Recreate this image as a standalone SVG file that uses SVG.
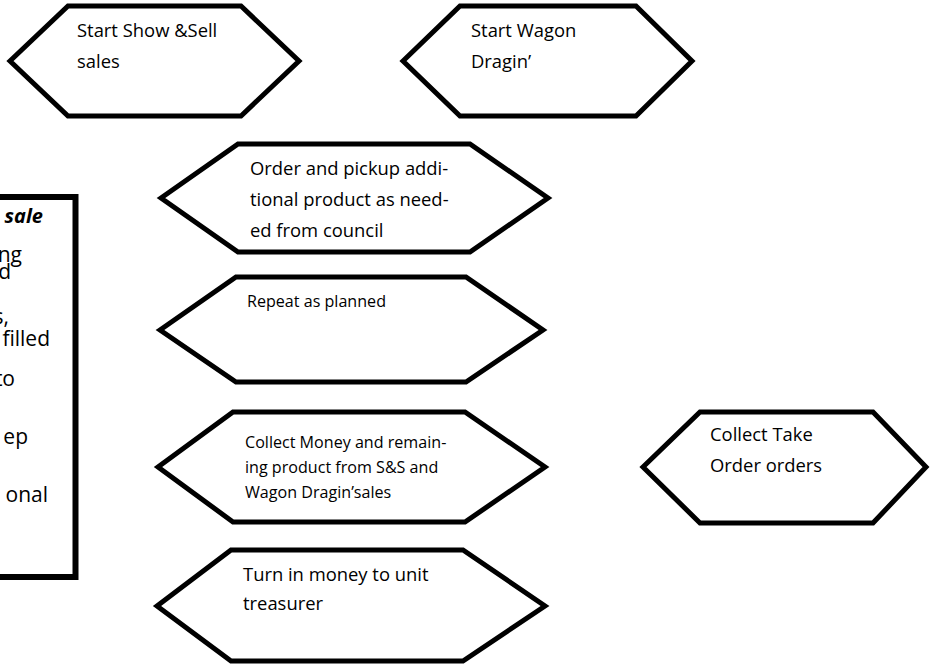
<svg xmlns="http://www.w3.org/2000/svg" width="932" height="664" viewBox="0 0 932 664">
<style>
.hex{fill:#fff;stroke:#000;stroke-width:5;stroke-linejoin:miter}
.box{fill:#fff;stroke:#000;stroke-width:6}
.t{font-family:"Open Sans","Liberation Sans",sans-serif;font-size:18.4px;fill:#000}
.s{font-size:16.1px}
.b{font-family:"Open Sans","Liberation Sans",sans-serif;font-size:21px;fill:#000}
.bi{font-weight:bold;font-style:italic;font-size:20px}
</style>
<rect width="932" height="664" fill="#fff"/>
<g id="connectors"></g>
<g id="note">
<rect class="box" x="-20" y="197" width="95.5" height="380"/>
<text class="b bi" x="43" y="223" text-anchor="end">sale</text>
<text class="b" x="22" y="262" text-anchor="end">ng</text>
<text class="b" x="11" y="279" text-anchor="end">d</text>
<text class="b" x="9" y="324" text-anchor="end">s,</text>
<text class="b" x="50" y="346" text-anchor="end">filled</text>
<text class="b" x="15" y="386" text-anchor="end">to</text>
<text class="b" x="28" y="444" text-anchor="end">ep</text>
<text class="b" x="48" y="502" text-anchor="end">onal</text>
</g>
<g id="start-show-sell">
<polygon class="hex" points="10,61 68,6 241,6 299,61 241,116 68,116"/>
<text class="t" x="77" y="37">Start Show &amp;Sell</text>
<text class="t" x="77" y="68">sales</text>
</g>
<g id="start-wagon">
<polygon class="hex" points="403,61 460,6 636,6 692,61 636,116 460,116"/>
<text class="t" x="471" y="37">Start Wagon</text>
<text class="t" x="471" y="68">Dragin’</text>
</g>
<g id="order-pickup">
<polygon class="hex" points="161,198 238,144 470,144 548,198 470,252 238,252"/>
<text class="t" x="250" y="175">Order and pickup addi-</text>
<text class="t" x="250" y="206">tional product as need-</text>
<text class="t" x="250" y="237">ed from council</text>
</g>
<g id="repeat">
<polygon class="hex" points="160,330 236,277 466,277 543,330 466,382 236,382"/>
<text class="t s" x="247" y="307">Repeat as planned</text>
</g>
<g id="collect-money">
<polygon class="hex" points="158,467 233,412 465,412 545,467 465,522 233,522"/>
<text class="t s" x="245" y="448">Collect Money and remain-</text>
<text class="t s" x="245" y="473">ing product from S&amp;S and</text>
<text class="t s" x="245" y="498">Wagon Dragin’sales</text>
</g>
<g id="turn-in">
<polygon class="hex" points="157,606 231,550 463,550 545,606 463,661 231,661"/>
<text class="t" x="243" y="581">Turn in money to unit</text>
<text class="t" x="243" y="610">treasurer</text>
</g>
<g id="collect-take-order">
<polygon class="hex" points="643,467 700,412 873,412 926,467 873,523 700,523"/>
<text class="t" x="710" y="441">Collect Take</text>
<text class="t" x="710" y="472">Order orders</text>
</g>
</svg>
